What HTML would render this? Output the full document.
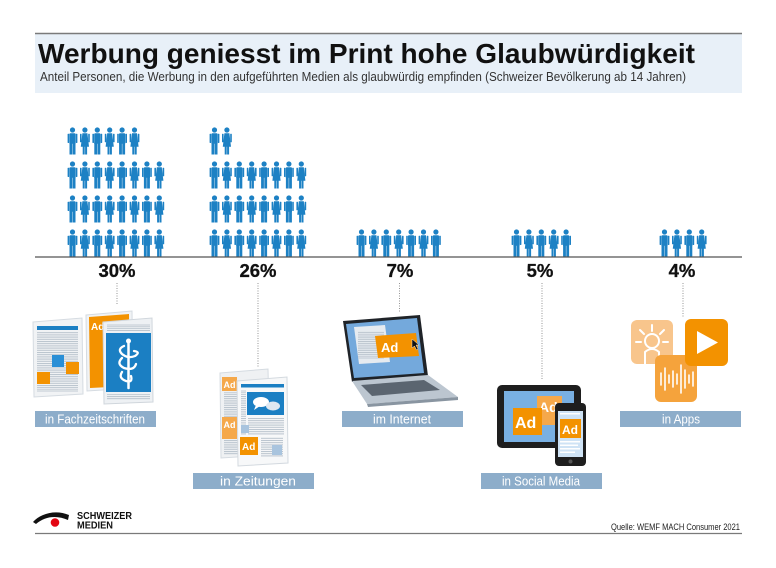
<!DOCTYPE html>
<html><head><meta charset="utf-8"><style>
html,body{margin:0;padding:0;background:#fff;}
svg{display:block;}
text{font-family:"Liberation Sans",sans-serif;}
</style></head><body>
<svg width="776" height="568" viewBox="0 0 776 568" xmlns="http://www.w3.org/2000/svg">
<defs>
<symbol id="m" viewBox="0 0 9 27" width="9" height="27" overflow="visible">
<g fill="#1d81c4"><circle cx="4.5" cy="2.5" r="2.6"/><path d="M2.3,5.7H6.7Q7.6,5.7 7.6,6.7V16.2H1.4V6.7Q1.4,5.7 2.3,5.7Z"/><rect x="-0.4" y="6.2" width="1.6" height="9.3" rx="0.6"/><rect x="7.8" y="6.2" width="1.6" height="9.3" rx="0.6"/><rect x="1.5" y="15" width="2.8" height="12"/><rect x="4.7" y="15" width="2.8" height="12"/></g>
</symbol>
<symbol id="f" viewBox="0 0 9 27" width="9" height="27" overflow="visible">
<g fill="#1d81c4"><circle cx="4.5" cy="2.5" r="2.6"/><path d="M2,5.7H7L8.6,19.2H0.4Z"/><rect x="-0.4" y="6.3" width="1.6" height="8.5" rx="0.6"/><rect x="7.8" y="6.3" width="1.6" height="8.5" rx="0.6"/><rect x="2.3" y="19" width="2" height="8"/><rect x="4.7" y="19" width="2" height="8"/></g>
</symbol>
<pattern id="ln" width="4" height="2.2" patternUnits="userSpaceOnUse"><rect x="0" y="0" width="4" height="1" fill="#b8c2cc"/></pattern>
</defs>

<!-- header -->
<rect x="35" y="34" width="707" height="59" fill="#e8f0f8"/>
<line x1="35" y1="33.5" x2="742" y2="33.5" stroke="#7a7a7a" stroke-width="1.5"/>
<text x="38" y="63" font-size="28" font-weight="bold" fill="#111" textLength="657" lengthAdjust="spacingAndGlyphs">Werbung geniesst im Print hohe Glaubwürdigkeit</text>
<text x="40" y="81" font-size="12.5" fill="#333" textLength="646" lengthAdjust="spacingAndGlyphs">Anteil Personen, die Werbung in den aufgeführten Medien als glaubwürdig empfinden (Schweizer Bevölkerung ab 14 Jahren)</text>

<!-- figures group 1 (30) -->
<use href="#m" x="68" y="127.5"/><use href="#f" x="80.4" y="127.5"/><use href="#m" x="92.8" y="127.5"/><use href="#f" x="105.2" y="127.5"/><use href="#m" x="117.6" y="127.5"/><use href="#f" x="130" y="127.5"/>
<use href="#m" x="68" y="161.5"/><use href="#f" x="80.4" y="161.5"/><use href="#m" x="92.8" y="161.5"/><use href="#f" x="105.2" y="161.5"/><use href="#m" x="117.6" y="161.5"/><use href="#f" x="130" y="161.5"/><use href="#m" x="142.4" y="161.5"/><use href="#f" x="154.8" y="161.5"/>
<use href="#m" x="68" y="195.5"/><use href="#f" x="80.4" y="195.5"/><use href="#m" x="92.8" y="195.5"/><use href="#f" x="105.2" y="195.5"/><use href="#m" x="117.6" y="195.5"/><use href="#f" x="130" y="195.5"/><use href="#m" x="142.4" y="195.5"/><use href="#f" x="154.8" y="195.5"/>
<use href="#m" x="68" y="229.5"/><use href="#f" x="80.4" y="229.5"/><use href="#m" x="92.8" y="229.5"/><use href="#f" x="105.2" y="229.5"/><use href="#m" x="117.6" y="229.5"/><use href="#f" x="130" y="229.5"/><use href="#m" x="142.4" y="229.5"/><use href="#f" x="154.8" y="229.5"/>
<!-- group 2 (26) -->
<use href="#m" x="210" y="127.5"/><use href="#f" x="222.4" y="127.5"/>
<use href="#m" x="210" y="161.5"/><use href="#f" x="222.4" y="161.5"/><use href="#m" x="234.8" y="161.5"/><use href="#f" x="247.2" y="161.5"/><use href="#m" x="259.6" y="161.5"/><use href="#f" x="272" y="161.5"/><use href="#m" x="284.4" y="161.5"/><use href="#f" x="296.8" y="161.5"/>
<use href="#m" x="210" y="195.5"/><use href="#f" x="222.4" y="195.5"/><use href="#m" x="234.8" y="195.5"/><use href="#f" x="247.2" y="195.5"/><use href="#m" x="259.6" y="195.5"/><use href="#f" x="272" y="195.5"/><use href="#m" x="284.4" y="195.5"/><use href="#f" x="296.8" y="195.5"/>
<use href="#m" x="210" y="229.5"/><use href="#f" x="222.4" y="229.5"/><use href="#m" x="234.8" y="229.5"/><use href="#f" x="247.2" y="229.5"/><use href="#m" x="259.6" y="229.5"/><use href="#f" x="272" y="229.5"/><use href="#m" x="284.4" y="229.5"/><use href="#f" x="296.8" y="229.5"/>
<!-- group 3 (7) -->
<use href="#m" x="357" y="229.5"/><use href="#f" x="369.4" y="229.5"/><use href="#m" x="381.8" y="229.5"/><use href="#f" x="394.2" y="229.5"/><use href="#m" x="406.6" y="229.5"/><use href="#f" x="419" y="229.5"/><use href="#m" x="431.4" y="229.5"/>
<!-- group 4 (5) -->
<use href="#m" x="512" y="229.5"/><use href="#f" x="524.4" y="229.5"/><use href="#m" x="536.8" y="229.5"/><use href="#f" x="549.2" y="229.5"/><use href="#m" x="561.6" y="229.5"/>
<!-- group 5 (4) -->
<use href="#m" x="660" y="229.5"/><use href="#f" x="672.4" y="229.5"/><use href="#m" x="684.8" y="229.5"/><use href="#f" x="697.2" y="229.5"/>

<line x1="35" y1="257" x2="742" y2="257" stroke="#555" stroke-width="1.3"/>

<!-- percentages -->
<g font-size="18.5" font-weight="bold" fill="#111" text-anchor="middle" stroke="#111" stroke-width="0.3">
<text x="117" y="277">30%</text>
<text x="258" y="277">26%</text>
<text x="400" y="277">7%</text>
<text x="540" y="277">5%</text>
<text x="682" y="277">4%</text>
</g>
<g stroke="#8a8a8a" stroke-width="0.9" stroke-dasharray="1 1.5">
<line x1="117" y1="283" x2="117" y2="304"/>
<line x1="258" y1="283" x2="258" y2="367"/>
<line x1="399.5" y1="283" x2="399.5" y2="313"/>
<line x1="542" y1="283" x2="542" y2="379"/>
<line x1="683" y1="283" x2="683" y2="317"/>
</g>

<!-- Fachzeitschriften icon -->
<polygon points="33,322 82,318 83,394 34,397" fill="#f1f3f5" stroke="#d5dbe1" stroke-width="1"/>
<rect x="37" y="326" width="41" height="4" fill="#1b7fc3"/>
<rect x="37" y="332" width="41" height="60" fill="url(#ln)"/>
<rect x="52" y="355" width="12" height="12" fill="#2a8fd6"/>
<rect x="37" y="372" width="13" height="12" fill="#f39200"/>
<rect x="66" y="362" width="13" height="12" fill="#f39200"/>
<polygon points="86,315 132,311 133,388 87,391" fill="#f1f3f5" stroke="#d5dbe1" stroke-width="1"/>
<polygon points="89,317 129,314 130,386 90,388" fill="#f39200"/>
<text x="91" y="330" font-size="10" font-weight="bold" fill="#fff">Ad</text>
<polygon points="103,322 152,318 153,402 104,404" fill="#eef1f4" stroke="#d0d6dc" stroke-width="1"/>
<rect x="107" y="324" width="43" height="7" fill="url(#ln)"/>
<rect x="106" y="333" width="45" height="59" fill="#1b7fc3"/>
<rect x="107" y="394" width="43" height="6" fill="url(#ln)"/>
<g stroke="#fff" fill="none" stroke-linecap="round">
<line x1="128.5" y1="341" x2="128.5" y2="388" stroke-width="2.5"/>
<path d="M124,346 Q117,349 122,354 Q128,359 135,356 Q141,352 134,351 M122,358 Q116,364 124,368 Q134,371 136,364 M122,372 Q118,378 126,381 Q133,383 131,376" stroke-width="2.3"/>
</g>
<circle cx="128.5" cy="341" r="2.5" fill="#fff"/>

<!-- Zeitungen icon -->
<polygon points="220,373 268,369 270,455 221,458" fill="#eff1f3" stroke="#d5dbe1" stroke-width="1"/>
<rect x="224" y="392" width="14" height="28" fill="url(#ln)"/>
<rect x="224" y="440" width="14" height="15" fill="url(#ln)"/>
<rect x="222" y="377" width="15" height="14" fill="#f5a84a"/>
<text x="223.5" y="388" font-size="9" font-weight="bold" fill="#fff">Ad</text>
<rect x="222" y="417" width="15" height="22" fill="#f5a84a"/>
<text x="223.5" y="428" font-size="9" font-weight="bold" fill="#fff">Ad</text>
<polygon points="237,381 287,377 288,463 238,466" fill="#f7f8f9" stroke="#d3d9df" stroke-width="1"/>
<rect x="241" y="384" width="43" height="3.5" fill="#1b7fc3"/>
<rect x="241" y="390" width="5" height="45" fill="url(#ln)"/>
<rect x="247" y="392" width="37" height="23" fill="#1b7fc3"/>
<ellipse cx="261" cy="402" rx="8" ry="5" fill="#fff"/>
<path d="M256,405 L254,410 L260,406Z" fill="#fff"/>
<ellipse cx="273" cy="406" rx="7" ry="4.5" fill="#dfe8f1"/>
<rect x="248" y="418" width="36" height="17" fill="url(#ln)"/>
<rect x="241" y="425" width="8" height="8" fill="#a9c4de"/>
<rect x="240" y="437" width="18" height="18" fill="#f39200"/>
<text x="242" y="450" font-size="10" font-weight="bold" fill="#fff">Ad</text>
<rect x="261" y="437" width="22" height="20" fill="url(#ln)"/>
<rect x="272" y="445" width="10" height="10" fill="#a9c4de"/>

<!-- Laptop -->
<polygon points="343,321 420,315 428,376 352,382" fill="#1f2328"/>
<polygon points="346,324 417,318 424,373 354,378" fill="#74a9dc"/>
<polygon points="354,327 385,325 390,362 359,364" fill="#e6ebf0"/>
<rect x="358" y="331" width="26" height="28" fill="url(#ln)"/>
<polygon points="375,336 416,333 419,356 378,358" fill="#f39200"/>
<text x="381" y="352" font-size="13" font-weight="bold" fill="#fff">Ad</text>
<path d="M412,339 L412,348 L414.5,346 L416.5,350 L418,349 L416,345 L419,345Z" fill="#111" stroke="#fff" stroke-width="0.4"/>
<polygon points="352,381 428,375 458,397 367,404" fill="#bcc6d0"/>
<polygon points="361,385 424,380 440,390 372,396" fill="#5b6570"/>
<polygon points="367,404 458,397 458,400 368,407" fill="#8995a1"/>

<!-- Tablet & phone -->
<rect x="497" y="385" width="84" height="63" rx="5" fill="#1e1e1e"/>
<rect x="504" y="391" width="70" height="51" fill="#79b0e2"/>
<rect x="537" y="396" width="25" height="29" fill="#f5a84a"/>
<text x="539" y="412" font-size="14" font-weight="bold" fill="#fff">Ad</text>
<rect x="513" y="408" width="29" height="27" fill="#f39200"/>
<text x="515" y="428" font-size="16" font-weight="bold" fill="#fff">Ad</text>
<rect x="555" y="403" width="31" height="63" rx="4" fill="#1e1e1e"/>
<rect x="558" y="411" width="25" height="46" fill="#cfe3f5"/>
<rect x="560" y="419" width="21" height="19" fill="#f39200"/>
<text x="562" y="434" font-size="12" font-weight="bold" fill="#fff">Ad</text>
<g fill="#fff"><rect x="560" y="441" width="20" height="1.5"/><rect x="560" y="444.5" width="18" height="1.5"/><rect x="560" y="448" width="20" height="1.5"/><rect x="560" y="451.5" width="15" height="1.5"/><rect x="560" y="413" width="20" height="1.5"/></g>
<circle cx="570.5" cy="461.5" r="2" fill="#555"/>

<!-- Apps -->
<rect x="631" y="320" width="42" height="44" rx="6" fill="#f8c58c"/>
<g stroke="#fff" stroke-width="2" stroke-linecap="round">
<line x1="652" y1="325" x2="652" y2="331"/><line x1="640" y1="330" x2="644" y2="334"/><line x1="664" y1="330" x2="660" y2="334"/><line x1="636" y1="342" x2="641" y2="342"/><line x1="668" y1="342" x2="663" y2="342"/>
</g>
<circle cx="652" cy="341" r="7" fill="none" stroke="#fff" stroke-width="2"/>
<path d="M645,364 V352 Q652,346 659,352 V364" fill="none" stroke="#fff" stroke-width="2"/>
<rect x="655" y="355" width="42" height="47" rx="6" fill="#f5a33c"/>
<g stroke="#fff" stroke-width="1.6" stroke-linecap="round">
<line x1="661" y1="373" x2="661" y2="385"/><line x1="665" y1="368" x2="665" y2="390"/><line x1="669" y1="375" x2="669" y2="383"/><line x1="673" y1="371" x2="673" y2="387"/><line x1="677" y1="374" x2="677" y2="384"/><line x1="681" y1="365" x2="681" y2="393"/><line x1="685" y1="370" x2="685" y2="388"/><line x1="689" y1="375" x2="689" y2="383"/><line x1="693" y1="372" x2="693" y2="386"/>
</g>
<rect x="685" y="319" width="43" height="47" rx="6" fill="#f39200"/>
<polygon points="697,331 718,342.5 697,354" fill="#fff"/>

<!-- labels -->
<g fill="#8dadca">
<rect x="35" y="411" width="121" height="16"/>
<rect x="193" y="473" width="121" height="16"/>
<rect x="342" y="411" width="121" height="16"/>
<rect x="481" y="473" width="121" height="16"/>
<rect x="620" y="411" width="121" height="16"/>
</g>
<g font-size="12.5" fill="#fff">
<text x="45" y="423.5" textLength="100" lengthAdjust="spacingAndGlyphs">in Fachzeitschriften</text>
<text x="220" y="485.5" textLength="76" lengthAdjust="spacingAndGlyphs">in Zeitungen</text>
<text x="373" y="423.5" textLength="58" lengthAdjust="spacingAndGlyphs">im Internet</text>
<text x="502" y="485.5" textLength="78" lengthAdjust="spacingAndGlyphs">in Social Media</text>
<text x="662" y="423.5" textLength="38" lengthAdjust="spacingAndGlyphs">in Apps</text>
</g>

<!-- footer -->
<path d="M33,522 C40,514 55,509 69,515 L68,520 C57,515 45,516 36,524 Z" fill="#111"/>
<circle cx="55" cy="522.5" r="4.3" fill="#e30613"/>
<text x="77" y="519" font-size="10" font-weight="bold" fill="#111" textLength="55" lengthAdjust="spacingAndGlyphs">SCHWEIZER</text>
<text x="77" y="528.5" font-size="10" font-weight="bold" fill="#111" textLength="36" lengthAdjust="spacingAndGlyphs">MEDIEN</text>
<text x="611" y="530" font-size="9" fill="#222" textLength="129" lengthAdjust="spacingAndGlyphs">Quelle: WEMF MACH Consumer 2021</text>
<line x1="35" y1="533.5" x2="742" y2="533.5" stroke="#7a7a7a" stroke-width="1.3"/>
</svg>
</body></html>
